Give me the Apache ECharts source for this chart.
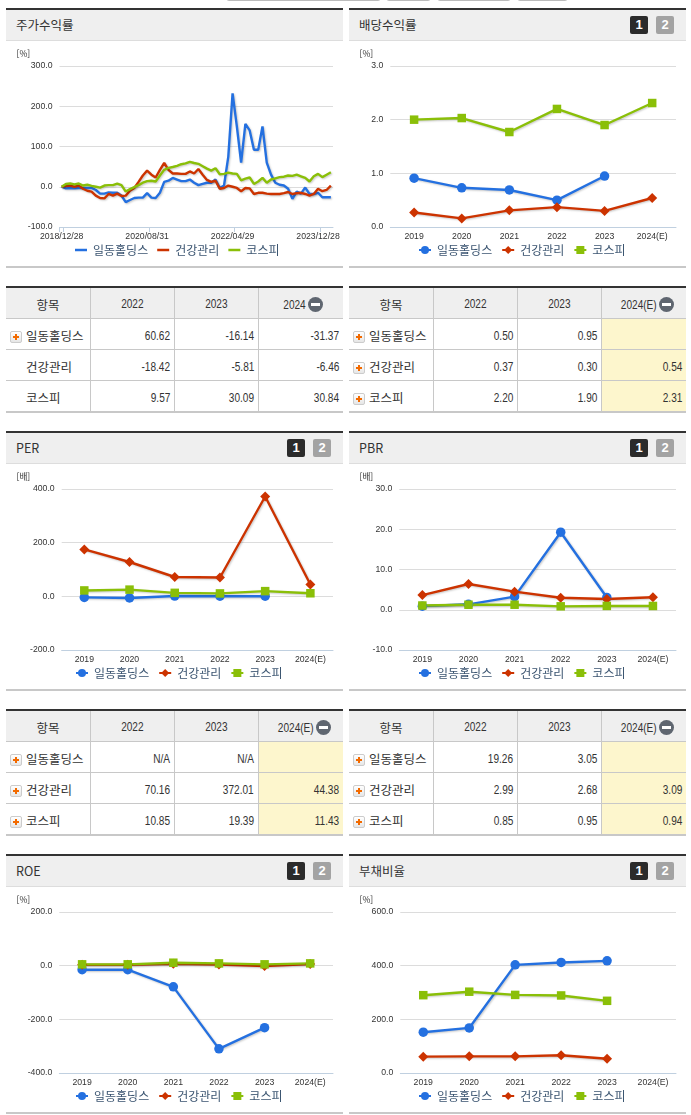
<!DOCTYPE html>
<html lang="ko"><head><meta charset="utf-8">
<script src="https://cdn.jsdelivr.net/npm/echarts@6/dist/echarts.min.js"></script>
<style>
html,body{margin:0;padding:0;background:#fff;width:691px;height:1115px;overflow:hidden}
body{position:relative;font-family:"Noto Sans CJK KR","Noto Sans",sans-serif;color:#333}
.panel{position:absolute;width:337px;height:256px;border-top:2px solid #333;border-bottom:2px solid #c8c8c8;box-sizing:content-box}
.head{position:absolute;left:0;top:0;width:337px;height:31px;background:#efefef;border-bottom:1px solid #ddd;font-size:12.5px;line-height:30px;padding-left:10px;box-sizing:border-box}
.btn{position:absolute;top:6px;width:18px;height:18px;border-radius:2px;color:#fff;font:bold 13px/18px "Liberation Sans",sans-serif;text-align:center}
.chart{position:absolute;left:0;top:31px;width:337px;height:225px}
table{position:absolute;width:337px;border-collapse:separate;border-spacing:0;table-layout:fixed;border-top:2px solid #333;border-bottom:2px solid #c8c8c8;font-size:12.5px}
td,th{padding:3px 0 0 0;border-right:1px solid #c8c8c8;border-bottom:1px solid #c8c8c8;box-sizing:border-box;font-weight:normal}
td{height:31px}
tr:last-child td{border-bottom:none;height:30px}
td:last-child,th:last-child{border-right:none}
th{background:#efefef;text-align:center;height:31px;padding-top:2px}
th.y,td.v{font-family:"Liberation Sans",sans-serif;font-size:12px}
td.v{text-align:right;padding-right:4px}
td.e{background:#fdf6cd}
td.n{padding-left:20px;position:relative;white-space:nowrap}
.num{display:inline-block;transform:scaleX(.84);transform-origin:100% 50%}
th .num.c{transform-origin:50% 50%}
.plus{position:absolute;left:4px;top:12px;width:12px;height:12px;border:1px solid #ccc;border-radius:2px;background:linear-gradient(#fff,#e6e6e6);box-sizing:border-box}
.plus:before{content:"";position:absolute;left:2px;top:4px;width:6px;height:2px;background:#f26a00}
.plus:after{content:"";position:absolute;left:4px;top:2px;width:2px;height:6px;background:#f26a00}
.minus{display:inline-block;width:15px;height:15px;border-radius:50%;background:#5f6670;position:relative;vertical-align:-3px;margin-left:3px}
.minus:after{content:"";position:absolute;left:3px;top:6px;width:9px;height:3px;background:#fff}
.tb{position:absolute;top:-6px;height:7px;border:1px solid #bbb;border-radius:3px;background:#fff;box-sizing:border-box}
</style></head><body>
<div id="root"></div>
<script>
// ---------- data ----------
const seriesNames = ['일동홀딩스', '건강관리', '코스피'];
const annualYears = ['2019', '2020', '2021', '2022', '2023', '2024(E)'];
const tableRowNames = ['일동홀딩스', '건강관리', '코스피'];

const monthDates = ['2018/12/28','2019/01/31','2019/02/28','2019/03/29','2019/04/30','2019/05/31','2019/06/28','2019/07/31','2019/08/30','2019/09/30','2019/10/31','2019/11/29','2019/12/30','2020/01/31','2020/02/28','2020/03/31','2020/04/29','2020/05/29','2020/06/30','2020/07/31','2020/08/31','2020/09/29','2020/10/30','2020/11/30','2020/12/30','2021/01/29','2021/02/26','2021/03/31','2021/04/30','2021/05/31','2021/06/30','2021/07/30','2021/08/31','2021/09/30','2021/10/29','2021/11/30','2021/12/30','2022/01/28','2022/02/28','2022/03/31','2022/04/29','2022/05/31','2022/06/30','2022/07/29','2022/08/31','2022/09/30','2022/10/31','2022/11/30','2022/12/29','2023/01/31','2023/02/28','2023/03/31','2023/04/28','2023/05/31','2023/06/30','2023/07/31','2023/08/31','2023/09/27','2023/10/31','2023/11/30','2023/12/28','2024/01/31','2024/02/29','2024/03/29'];
const returnIldong = [0,-4,-3,-4,-3,-3,-3,-3,-8,-17,-17,-14,-15,-15,-22,-38,-33,-28,-27,-27,-16,-27,-28,-15,12,15,22,18,14,14,18,10,4,7,10,10,18,-3,3,75,232,150,60,156,140,92,92,150,60,30,10,5,3,-5,-30,-12,-17,-2,-18,-18,-15,-26,-26,-26];
const returnHealth = [0,2,3,0,3,-5,-10,-12,-22,-28,-29,-18,-22,-17,-23,-22,-10,-3,12,28,40,30,23,42,59,42,33,33,32,32,38,33,44,30,17,12,15,-5,-3,3,0,-3,-11,-3,-4,-18,-15,-15,-17,-18,-18,-18,-16,-13,-18,-16,-15,-18,-22,-18,-5,-11,-8,3];
const returnKospi = [0,7,8,6,8,3,5,2,0,-2,3,4,4,8,4,-12,-6,-1,4,10,14,15,13,28,42,47,49,52,56,58,62,59,57,51,45,40,46,31,32,35,33,32,16,20,23,7,13,22,10,18,21,24,25,28,27,30,26,22,13,26,32,24,30,36];

const dividendIldong = [0.91,0.73,0.69,0.50,0.95,null];
const dividendHealth = [0.27,0.16,0.31,0.37,0.30,0.54];
const dividendKospi = [2.00,2.03,1.77,2.20,1.90,2.31];

const perIldong = [-4,-6,1,0.5,0.5,null];
const perHealth = [175,128,72,70.16,372.01,44.38];
const perKospi = [22,25,13,10.85,19.39,11.43];

const pbrIldong = [0.9,1.35,3.25,19.26,3.05,null];
const pbrHealth = [3.65,6.4,4.5,2.99,2.68,3.09];
const pbrKospi = [1.05,1.25,1.25,0.85,0.95,0.94];

const roeIldong = [-15,-15,-79,-310,-231,null];
const roeHealth = [3,3,7,4,-1,6];
const roeKospi = [5,5,11,8.5,5,8.5];

const debtIldong = [152,168,403,412,418,null];
const debtHealth = [61,62,62,66,53,null];
const debtKospi = [290,303,291,289,269,null];

const tableReturn = [['60.62','-16.14','-31.37'],['-18.42','-5.81','-6.46'],['9.57','30.09','30.84']];
const tableDividend = [['0.50','0.95',''],['0.37','0.30','0.54'],['2.20','1.90','2.31']];
const tablePer = [['N/A','N/A',''],['70.16','372.01','44.38'],['10.85','19.39','11.43']];
const tablePbr = [['19.26','3.05',''],['2.99','2.68','3.09'],['0.85','0.95','0.94']];

// ---------- page ----------
const COLORS = ['#2470e0', '#cc3300', '#8abf08'];
const root = document.getElementById('root');
const LX = 6, RX = 349, ROWS = [8, 431, 854], TROWS = [286, 709];

function panel(x, y, title, buttons) {
  const p = document.createElement('div');
  p.className = 'panel'; p.style.left = x + 'px'; p.style.top = y + 'px';
  let h = '<div class="head">' + title;
  if (buttons) h += '<span class="btn" style="left:281px;background:#2b2b2b">1</span><span class="btn" style="left:307px;background:#a3a3a3">2</span>';
  h += '</div><div class="chart"></div>';
  p.innerHTML = h; root.appendChild(p);
  return p.querySelector('.chart');
}
const num = (s, c) => '<span class="num' + (c ? ' c' : '') + '">' + s + '</span>';
function table(x, y, head3, rows, opts) {
  const t = document.createElement('table');
  t.style.left = x + 'px'; t.style.top = y + 'px';
  let h = '<colgroup><col style="width:85px"><col style="width:84px"><col style="width:84px"><col style="width:84px"></colgroup>';
  h += '<tr><th>항목</th><th class="y">' + num('2022', true) + '</th><th class="y">' + num('2023', true) + '</th><th class="y">' + num(head3) + '<span class="minus"></span></th></tr>';
  rows.forEach((r, i) => {
    const icon = (opts.noIcon && opts.noIcon.includes(i)) ? '' : '<span class="plus"></span>';
    h += '<tr><td class="n">' + icon + tableRowNames[i] + '</td><td class="v">' + num(r[0]) + '</td><td class="v">' + num(r[1]) + '</td><td class="v' + (opts.est ? ' e' : '') + '">' + num(r[2]) + '</td></tr>';
  });
  t.innerHTML = h; root.appendChild(t);
}

// clipped toolbar remnants along the top edge
[[226,155],[386,45],[437,74],[517,51]].forEach(b => {
  const d = document.createElement('div');
  d.className = 'tb'; d.style.left = b[0] + 'px'; d.style.width = b[1] + 'px'; root.appendChild(d);
});

function baseOption(unit, gridLeft, yMin, yMax, yStep, cats) {
  return {
    animation: false,
    title: { text: unit, left: 10.5, top: 8, padding: 0, textStyle: { fontSize: 8.6, fontWeight: 'normal', color: '#333', fontFamily: '"Noto Sans CJK KR","Liberation Sans"' } },
    grid: { left: gridLeft, right: 10, top: 25, height: 161, containLabel: false },
    legend: { left: 69, top: 203, padding: 0, itemWidth: 12, itemHeight: 10, itemGap: 9, data: seriesNames,
      textStyle: { fontSize: 12, color: '#3a5470', fontFamily: '"Noto Sans CJK KR"', padding: [0,0,0,1] } },
    xAxis: [{ type: 'category', data: cats, boundaryGap: true,
      axisLine: { onZero: false, lineStyle: { color: '#c0d0e0' } },
      axisTick: { length: 5, lineStyle: { color: '#c0d0e0' } },
      axisLabel: { color: '#333', fontSize: 8.7, margin: 5, fontFamily: '"Liberation Sans"', interval: 0 } }],
    yAxis: { type: 'value', min: yMin, max: yMax, interval: yStep,
      axisLine: { show: false }, axisTick: { show: false },
      splitLine: { lineStyle: { color: '#dcdcdc' } },
      axisLabel: { color: '#333', fontSize: 8.7, margin: 7, fontFamily: '"Liberation Sans"', formatter: v => v.toFixed(1) } },
    series: []
  };
}
function lineSeries(name, data, idx, marks) {
  const syms = ['circle', 'diamond', 'rect'], sizes = [9.5, 10, 8.5];
  return { name, type: 'line', data, xAxisIndex: 0, connectNulls: false,
    symbol: marks ? syms[idx] : 'none', symbolSize: sizes[idx], showSymbol: !!marks, showAllSymbol: true,
    lineStyle: { width: 2.4, color: COLORS[idx], shadowColor: 'rgba(0,0,0,0.22)', shadowBlur: 2, shadowOffsetX: 1, shadowOffsetY: 1 },
    itemStyle: { color: COLORS[idx] }, emphasis: { disabled: true } };
}
function annualChart(el, unit, gridLeft, yMin, yMax, yStep, a, b, c) {
  const o = baseOption(unit, gridLeft, yMin, yMax, yStep, annualYears);
  o.series = [lineSeries(seriesNames[0], a, 0, true), lineSeries(seriesNames[1], b, 1, true), lineSeries(seriesNames[2], c, 2, true)];
  echarts.init(el, null, { renderer: 'canvas' }).setOption(o);
}

// 주가수익률
const c1 = panel(LX, ROWS[0], '주가수익률', false);
const o1 = baseOption('[%]', 53.5, -100, 300, 100, monthDates);
o1.legend.icon = 'rect';
o1.legend.itemHeight = 2.5;
o1.xAxis[0].axisLabel.interval = 19;
o1.xAxis[0].axisTick.show = false;
o1.xAxis[0].axisLine.show = false;
o1.xAxis.push({ type: 'value', position: 'bottom', min: 0, max: monthDates.length,
  axisLine: { show: true, onZero: false, lineStyle: { color: '#c0d0e0' } },
  axisTick: { show: true, length: 5, lineStyle: { color: '#c0d0e0' }, customValues: [0, 0.9, 20.9, 40.9, 60.9] },
  axisLabel: { show: false }, splitLine: { show: false } });
o1.series = [lineSeries(seriesNames[0], returnIldong, 0, false), lineSeries(seriesNames[1], returnHealth, 1, false), lineSeries(seriesNames[2], returnKospi, 2, false)];
echarts.init(c1).setOption(o1);

annualChart(panel(RX, ROWS[0], '배당수익률', true), '[%]', 41.3, 0, 3, 1, dividendIldong, dividendHealth, dividendKospi);
table(LX, TROWS[0], '2024', tableReturn, { noIcon: [1, 2] });
table(RX, TROWS[0], '2024(E)', tableDividend, { est: true });
annualChart(panel(LX, ROWS[1], 'PER', true), '[배]', 55.7, -200, 400, 200, perIldong, perHealth, perKospi);
annualChart(panel(RX, ROWS[1], 'PBR', true), '[배]', 50.3, -10, 30, 10, pbrIldong, pbrHealth, pbrKospi);
table(LX, TROWS[1], '2024(E)', tablePer, { est: true });
table(RX, TROWS[1], '2024(E)', tablePbr, { est: true });
annualChart(panel(LX, ROWS[2], 'ROE', true), '[%]', 53.3, -400, 200, 200, roeIldong, roeHealth, roeKospi);
annualChart(panel(RX, ROWS[2], '부채비율', true), '[%]', 51.3, 0, 600, 200, debtIldong, debtHealth, debtKospi);
</script>
</body></html>
